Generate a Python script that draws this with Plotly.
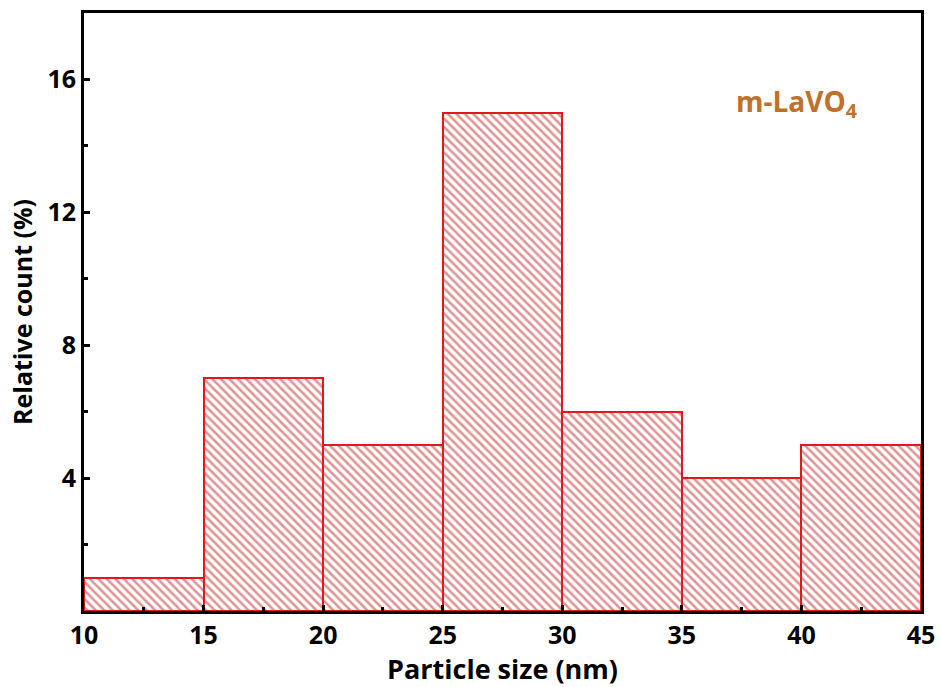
import plotly.graph_objects as go

bin_left = [10, 15, 20, 25, 30, 35, 40]
bin_width = 5
counts = [1, 7, 5, 15, 6, 4, 5]
x_ticks = [10, 15, 20, 25, 30, 35, 40, 45]
y_ticks = [4, 8, 12, 16]

font_family = "Open Sans, DejaVu Sans, sans-serif"

fig = go.Figure()
fig.add_trace(go.Bar(
    x=[b + bin_width / 2 for b in bin_left],
    y=counts,
    width=[bin_width] * len(bin_left),
    marker=dict(
        color="white",
        line=dict(color="#e3171e", width=2),
        pattern=dict(shape="\\", fgcolor="#bc2a2a", bgcolor="white", size=6, solidity=0.42),
    ),
    showlegend=False,
))

axis_common = dict(
    showline=True, linecolor="black", linewidth=3, mirror=True,
    ticks="inside", tickcolor="black", tickwidth=3, ticklen=6,
    showgrid=False, zeroline=False, automargin=False,
    tickfont=dict(family=font_family, size=25, color="black", weight="bold"),
)

fig.update_xaxes(
    range=[10, 45], tickvals=x_ticks,
    minor=dict(ticks="inside", dtick=2.5, tick0=10, ticklen=4, tickwidth=3, tickcolor="black"),
    title=dict(text="Particle size (nm)", font=dict(family=font_family, size=27, color="black", weight="bold"), standoff=8),
    **axis_common,
)
fig.update_yaxes(
    range=[0, 18], tickvals=y_ticks,
    minor=dict(ticks="inside", dtick=2, tick0=0, ticklen=4, tickwidth=3, tickcolor="black"),
    title=dict(text="Relative count (%)", font=dict(family=font_family, size=25, color="black", weight="bold"), standoff=8),
    **axis_common,
)

fig.add_annotation(
    x=0.851, y=0.85, xref="paper", yref="paper", xanchor="center", yanchor="middle",
    text="m-LaVO<sub>4</sub>", showarrow=False,
    font=dict(family=font_family, size=28, color="#c0702b", weight="bold"),
)

fig.update_layout(
    width=941, height=687,
    margin=dict(l=84, r=20, t=13, b=76),
    plot_bgcolor="white", paper_bgcolor="white",
    bargap=0,
)

fig.write_html("out.html")
